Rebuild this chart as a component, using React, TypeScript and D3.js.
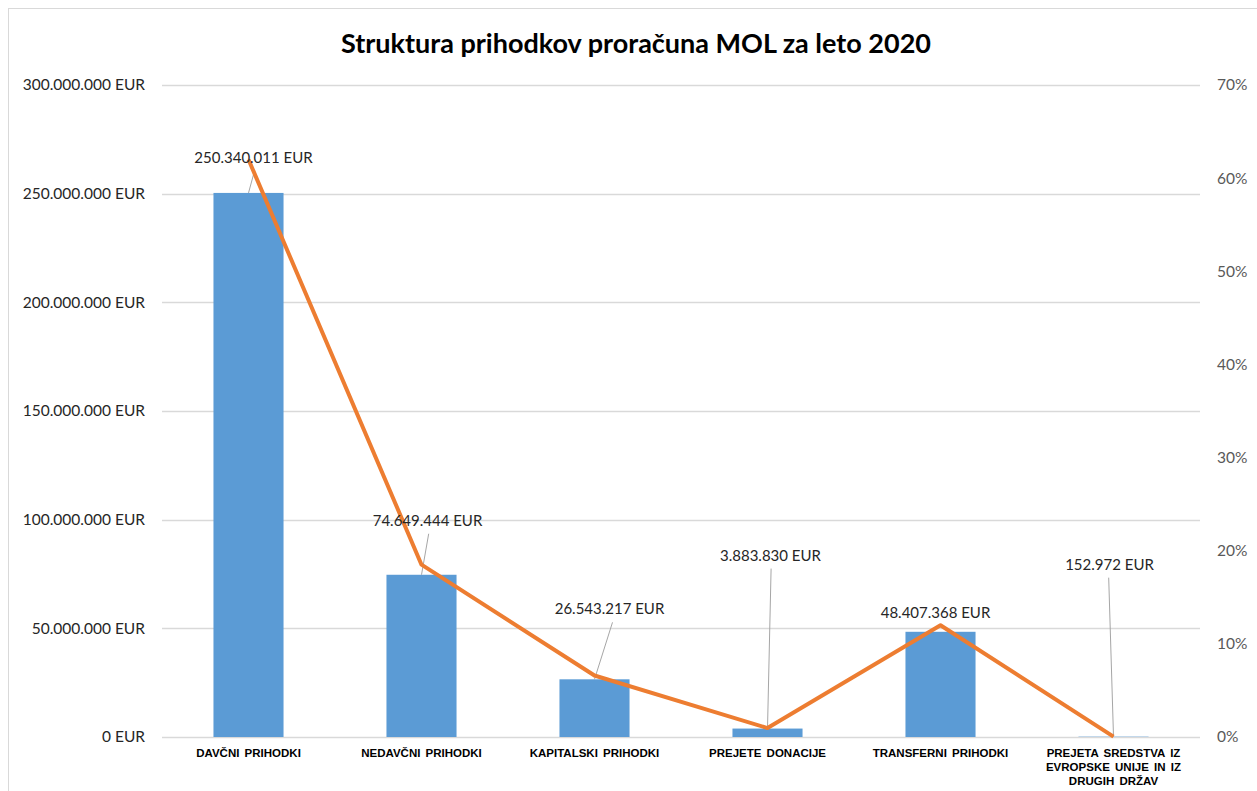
import { useEffect, useRef } from 'react';
import * as d3 from 'd3';

// categories, values (EUR) and share of total
const categories = [
  'DAVČNI PRIHODKI',
  'NEDAVČNI PRIHODKI',
  'KAPITALSKI PRIHODKI',
  'PREJETE DONACIJE',
  'TRANSFERNI PRIHODKI',
  'PREJETA SREDSTVA IZ EVROPSKE UNIJE IN IZ DRUGIH DRŽAV',
];
const amounts = [250340011, 74649444, 26543217, 3883830, 48407368, 152972];
const shares = [0.62, 0.185, 0.066, 0.0096, 0.12, 0.0004];
const leftTicks = [0, 50000000, 100000000, 150000000, 200000000, 250000000, 300000000];
const rightTicks = [0, 0.1, 0.2, 0.3, 0.4, 0.5, 0.6, 0.7];

// manual label placement (px from bar top centre), like the dragged Excel labels
const labelNudge = [
  { dx: 5, dy: -30 },
  { dx: 6, dy: -49 },
  { dx: 15, dy: -65 },
  { dx: 3, dy: -168 },
  { dx: -5, dy: -14 },
  { dx: -4, dy: -167 },
];

const W = 1257;
const H = 791;

const fmtEur = (v: number) =>
  String(Math.round(v)).replace(/\B(?=(\d{3})+(?!\d))/g, '.') + ' EUR';

const App = () => {
  const ref = useRef<SVGSVGElement>(null);

  useEffect(() => {
    const svg = d3.select(ref.current);
    svg.selectAll('*').remove();

    const margin = { top: 85, right: 57, bottom: 54, left: 162 };
    const innerW = W - margin.left - margin.right;
    const innerH = H - margin.top - margin.bottom;

    // chart area border
    svg.append('rect')
      .attr('x', 8.5).attr('y', 8.5)
      .attr('width', W + 10).attr('height', H + 10)
      .attr('fill', 'white').attr('stroke', '#d9d9d9');

    svg.append('text')
      .text('Struktura prihodkov proračuna MOL za leto 2020')
      .attr('x', 636).attr('y', 53)
      .attr('text-anchor', 'middle')
      .style('font-family', 'Lato, "Open Sans", sans-serif')
      .style('font-weight', 'bold')
      .style('font-size', '27px')
      .attr('fill', '#000');

    const g = svg.append('g').attr('transform', `translate(${margin.left},${margin.top})`);

    const x = d3.scaleBand().domain(categories).range([0, innerW]).padding(0);
    const y = d3.scaleLinear().domain([0, 300000000]).range([innerH, 0]);
    const y2 = d3.scaleLinear().domain([0, 0.7]).range([innerH, 0]);
    const barW = x.bandwidth() * 0.405;
    const cx = (c: string) => (x(c) as number) + x.bandwidth() / 2;

    // gridlines
    g.append('g').selectAll('line').data(leftTicks).enter().append('line')
      .attr('x1', 0).attr('x2', innerW)
      .attr('y1', d => Math.round(y(d)) + 0.5).attr('y2', d => Math.round(y(d)) + 0.5)
      .attr('stroke', '#d9d9d9').attr('stroke-width', 1.3);

    // left axis
    const yAxis = g.append('g').call(d3.axisLeft(y).tickValues(leftTicks).tickSize(0).tickPadding(17).tickFormat(d => fmtEur(+d)));
    yAxis.select('.domain').remove();
    yAxis.selectAll('text')
      .style('font-family', 'Lato, "Open Sans", sans-serif')
      .style('font-size', '15.5px')
      .attr('fill', '#262626');

    // right axis
    const yAxis2 = g.append('g').attr('transform', `translate(${innerW},0)`)
      .call(d3.axisRight(y2).tickValues(rightTicks).tickSize(0).tickPadding(17).tickFormat(d => Math.round(+d * 100) + '%'));
    yAxis2.select('.domain').remove();
    yAxis2.selectAll('text')
      .style('font-family', 'Lato, "Open Sans", sans-serif')
      .style('font-size', '15.5px')
      .attr('fill', '#595959');

    // bars
    g.selectAll('rect.bar').data(amounts).enter().append('rect')
      .attr('class', 'bar')
      .attr('x', (_, i) => cx(categories[i]) - barW / 2)
      .attr('width', barW)
      .attr('y', d => y(d))
      .attr('height', d => innerH - y(d))
      .attr('fill', '#5b9bd5');

    // category labels
    const catG = g.append('g').attr('transform', `translate(0,${innerH})`);
    categories.forEach(c => {
      const t = catG.append('text')
        .attr('x', cx(c)).attr('y', 20)
        .attr('text-anchor', 'middle')
        .style('font-family', '"Liberation Sans", Arial, sans-serif')
        .style('font-weight', 'bold')
        .style('font-size', '11.5px')
        .style('word-spacing', '2px')
        .attr('fill', '#000');
      const lines = c.length > 25 ? ['PREJETA SREDSTVA IZ', 'EVROPSKE UNIJE IN IZ', 'DRUGIH DRŽAV'] : [c];
      lines.forEach((l, k) => {
        t.append('tspan').attr('x', cx(c)).attr('dy', k === 0 ? 0 : 14).text(l);
      });
    });

    // leader lines + data labels
    amounts.forEach((v, i) => {
      const bx = cx(categories[i]);
      const by = y(v);
      const lx = bx + labelNudge[i].dx;
      const ly = by + labelNudge[i].dy;
      if (by - (ly + 8) > 12) {
        g.append('line')
          .attr('x1', bx).attr('y1', by)
          .attr('x2', lx + (lx - bx) * 0.2).attr('y2', ly + 8)
          .attr('stroke', '#a6a6a6').attr('stroke-width', 1);
      }
    });

    // share line
    const line = d3.line<number>()
      .x((_, i) => cx(categories[i]))
      .y(d => y2(d));
    g.append('path').datum(shares)
      .attr('d', line)
      .attr('fill', 'none')
      .attr('stroke', '#ed7d31')
      .attr('stroke-width', 4)
      .attr('stroke-linejoin', 'round');

    amounts.forEach((v, i) => {
      g.append('text')
        .text(fmtEur(v))
        .attr('x', cx(categories[i]) + labelNudge[i].dx)
        .attr('y', y(v) + labelNudge[i].dy)
        .attr('text-anchor', 'middle')
        .style('font-family', 'Lato, "Open Sans", sans-serif')
        .style('font-size', '15px')
        .attr('fill', '#262626');
    });
  }, []);

  return (
    <div>
      <svg ref={ref} width={W} height={H} style={{ position: 'absolute', left: 0, top: 0 }} />
    </div>
  );
};

export default App;
